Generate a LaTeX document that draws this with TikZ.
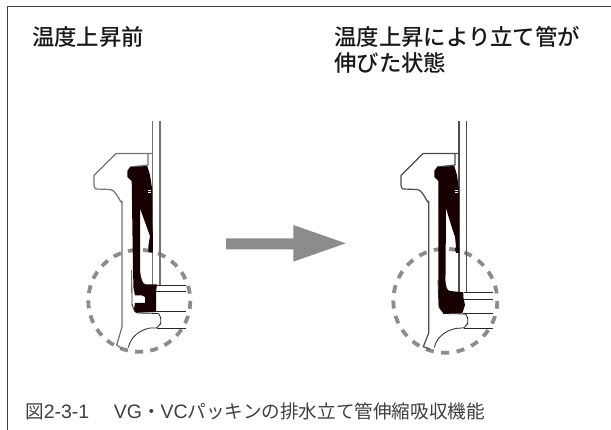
\documentclass[tikz,border=0pt]{standalone}
\usepackage{fontspec}
\setmainfont{Noto Sans CJK JP}
\newfontfamily\headfont{Noto Sans CJK JP Medium}
\newfontfamily\latfont{Liberation Sans}
\begin{document}
\begin{tikzpicture}[x=1pt,y=-1pt,
  headtxt/.style={anchor=west,inner sep=0pt,font=\headfont\fontsize{22.4}{25}\selectfont,text=black!90},
  captxt/.style={anchor=west,inner sep=0pt,font=\fontsize{18.6}{22}\selectfont,text=black!75},
  frameline/.style={draw=black!75,line width=0.9pt},
  thick line/.style={draw=black!55,line width=1.2pt},
  thin line/.style={draw=black!85,line width=0.8pt},
  gasket/.style={fill=black!90!red,draw=none},
  zone/.style={draw=black!45,line width=3.8pt},
  bigarrow/.style={fill=black!45,draw=none}]
\useasboundingbox (0,0) rectangle (611,430);
\fill[white] (0,0) rectangle (611,430);
\draw[frameline] (611,6) -- (7,6) -- (7,430);
\node[headtxt] (h1) at (32,37) {温度上昇前};
\node[headtxt] (h2) at (334,37) {温度上昇により立て管が};
\node[headtxt] (h3) at (334,63) {伸びた状態};
\node[captxt] (cap) at (25,411.5) {図{\latfont\fontsize{19.5}{22}\selectfont 2-3-1}\kern6pt　{\latfont\fontsize{19.5}{22}\selectfont VG}・{\latfont\fontsize{19.5}{22}\selectfont VC}パッキンの排水立て管伸縮吸収機能};
% left figure
\draw[zone,dash pattern=on 8pt off 7.26pt] (139.3,300.8) circle[radius=51];
\draw[thick line] (152.3,121) -- (152.3,285);
\draw[thick line] (160,121) -- (160,285);
\draw[thick line,line join=round] (152,153.5) -- (116,153.5) -- (94,175.5) -- (94,186) to[out=90,in=180] (96,189) -- (110,189.5) to[out=0,in=-90] (122,201) -- (122,327) -- (116.7,345) -- (122,349);
\draw[thick line] (148,153.5) -- (148,165) -- (130,167);
\draw[thin line] (131.7,270) -- (132,305) to[out=90,in=180] (137,313) -- (158,313.5) to[out=0,in=-90] (160.7,318) -- (160.7,324) to[out=90,in=0] (156,328) -- (150,328) .. controls (140,330) and (131,336) .. (128.3,347.5);
\draw[thin line] (157,285.7) -- (186,285.7);
\draw[thin line] (156,291.7) -- (186,291.7);
\draw[thin line] (156,311.7) -- (186,311.7);
\draw[thin line] (157,328) -- (186,328);
\fill[gasket] (127.3,171) -- (130,167) -- (147.3,166) -- (150,175) -- (152.3,190) -- (152.3,220) -- (153,240) -- (152.7,253) -- (148.5,251.7) -- (148.3,246.7) -- (150,236) -- (140,208.3) -- (140,268) to[out=90,in=180] (146,284.5) -- (157,284.5) -- (156,292) -- (156,312) -- (136,312.7) -- (134,309) -- (135,303) -- (145,303) -- (145,297) -- (142,295.5) -- (135,295.5) -- (133.5,288) -- (133,270) -- (131.7,181) -- (127.3,177) -- cycle;
\draw[white,line width=0.6pt] (148.3,190) -- (150.7,190) (148.3,192) -- (150.7,192);
% right figure
\draw[zone,dash pattern=on 8pt off 7.56pt] (445.3,300.8) circle[radius=52];
\draw[thick line,draw=black!70] (459,121) -- (459,292);
\draw[thick line,draw=black!70] (466.7,121) -- (466.7,292);
\draw[thick line,draw=black!70,line join=round] (459,153.5) -- (423,153.5) -- (401,175.5) -- (401,186) to[out=90,in=180] (403,189) -- (417,189.5) to[out=0,in=-90] (428.7,201) -- (428.7,333) -- (423.3,346.7) -- (430,349);
\draw[thick line,draw=black!70] (455,153.5) -- (455,165) -- (437,167);
\draw[thin line] (438,280) -- (439,308) (443,313.5) -- (465,314) to[out=0,in=-90] (467.7,318) -- (467.7,324) to[out=90,in=0] (463,328) -- (456.7,328.3) .. controls (447,330) and (437,336) .. (434.3,347.5);
\draw[thin line] (464,292.3) -- (492.7,292.3);
\draw[thin line] (464,299) -- (492.7,299);
\draw[thin line] (463,313.5) -- (492.7,313.5);
\draw[thin line] (464,328) -- (492.7,328);
\fill[gasket] (434.3,171) -- (437,167) -- (454.3,166) -- (457,175) -- (459,190) -- (459,220) -- (459.3,253) -- (456,253) -- (455,249) -- (456,246.7) -- (455,236.7) -- (452,228) -- (446,208.3) -- (445.7,250) -- (445.7,275) to[out=90,in=180] (450,291) -- (463.3,292.3) -- (463.3,297) -- (465,305) -- (462.3,313.3) -- (443.3,313.3) -- (439.3,308.3) -- (438.3,280) -- (438.3,181) -- (434.3,177) -- cycle;
\draw[white,line width=0.6pt] (455,190) -- (457.5,190) (455,192) -- (457.5,192);
% arrow
\fill[bigarrow] (226,238.3) -- (293.3,238.3) -- (293.3,225) -- (345.7,243.3) -- (293.3,261.7) -- (293.3,249.3) -- (226,249.3) -- cycle;
\end{tikzpicture}
\end{document}
